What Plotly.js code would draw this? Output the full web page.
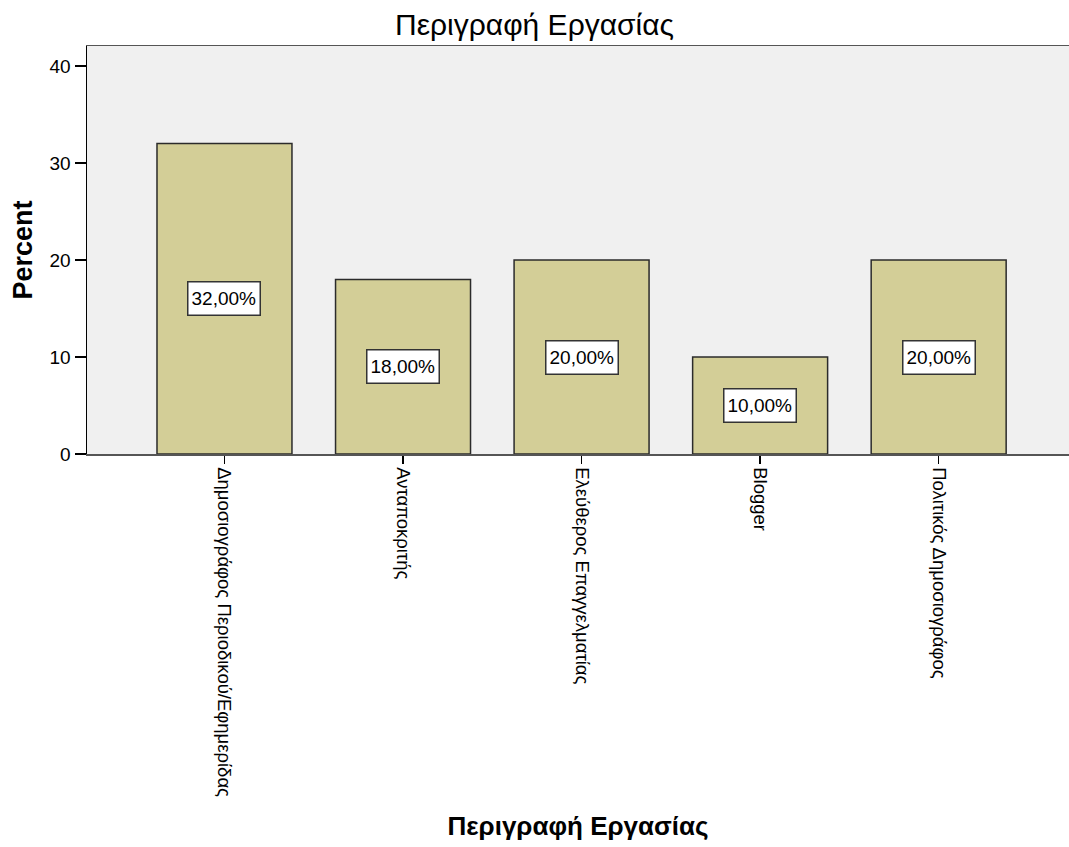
<!DOCTYPE html>
<html>
<head>
<meta charset="utf-8">
<script src="https://cdn.plot.ly/plotly-3.0.1.min.js"></script>
<style>
  html, body { margin: 0; padding: 0; background: #ffffff; overflow: hidden; }
  #chart { width: 1069px; height: 847px; }
</style>
</head>
<body>
<div id="chart"></div>
<script>
// Job description categories and their share of respondents (%)
const categories = [
  "Δημοσιογράφος Περιοδικού/Εφημερίδας",
  "Ανταποκριτής",
  "Ελεύθερος Επαγγελματίας",
  "Blogger",
  "Πολιτικός Δημοσιογράφος"
];
const percents = [32, 18, 20, 10, 20];
const yTicks = [0, 10, 20, 30, 40];

const FONT = "Liberation Sans, Arial, sans-serif";

const positions = categories.map((_, i) => i);

const trace = {
  type: "bar",
  x: positions,
  y: percents,
  width: 0.756,
  marker: {
    color: "#D3CE97",
    line: { color: "#2b2b2b", width: 1.5 }
  },
  hoverinfo: "none"
};

// Value boxes sit at the middle of each bar
const valueLabels = percents.map((v, i) => ({
  x: positions[i],
  y: v / 2,
  xref: "x",
  yref: "y",
  text: v.toFixed(2).replace(".", ",") + "%",
  showarrow: false,
  font: { family: FONT, size: 19, color: "#000000" },
  bgcolor: "#ffffff",
  bordercolor: "#333333",
  borderwidth: 1.5,
  borderpad: 3,
  height: 26,
  xanchor: "center",
  yanchor: "middle"
}));

const layout = {
  width: 1069,
  height: 847,
  margin: { l: 87, r: 0, t: 46, b: 393, pad: 0 },
  paper_bgcolor: "#ffffff",
  plot_bgcolor: "#F0F0F0",
  showlegend: false,
  title: {
    text: "Περιγραφή Εργασίας",
    font: { family: FONT, size: 30, color: "#000000" },
    xref: "container",
    x: 0.5,
    xanchor: "center",
    yref: "container",
    y: 1 - 24 / 847,
    yanchor: "middle"
  },
  xaxis: {
    range: [-0.77, 4.73],
    tickmode: "array",
    tickvals: positions,
    ticktext: categories,
    tickangle: 90,
    ticks: "outside",
    ticklen: 8,
    tickwidth: 1.5,
    tickcolor: "#000000",
    showline: true,
    linecolor: "#555555",
    linewidth: 1.5,
    mirror: true,
    showgrid: false,
    zeroline: false,
    tickfont: { family: FONT, size: 18.5, color: "#000000" },
    title: {
      text: "<b>Περιγραφή Εργασίας</b>",
      font: { family: FONT, size: 26, color: "#000000" },
      standoff: 20
    },
    automargin: false,
    fixedrange: true
  },
  yaxis: {
    range: [0, 42.06],
    tickmode: "array",
    tickvals: yTicks,
    ticks: "outside",
    ticklen: 11,
    tickwidth: 1.5,
    tickcolor: "#000000",
    showline: true,
    linecolor: "#000000",
    linewidth: 1.5,
    showgrid: false,
    zeroline: false,
    tickfont: { family: FONT, size: 19, color: "#000000" },
    title: {
      text: "<b>Percent</b>",
      font: { family: FONT, size: 27, color: "#000000" },
      standoff: 9
    },
    automargin: false,
    fixedrange: true
  },
  annotations: valueLabels
};

Plotly.newPlot("chart", [trace], layout, { displayModeBar: false, staticPlot: true });
</script>
</body>
</html>
